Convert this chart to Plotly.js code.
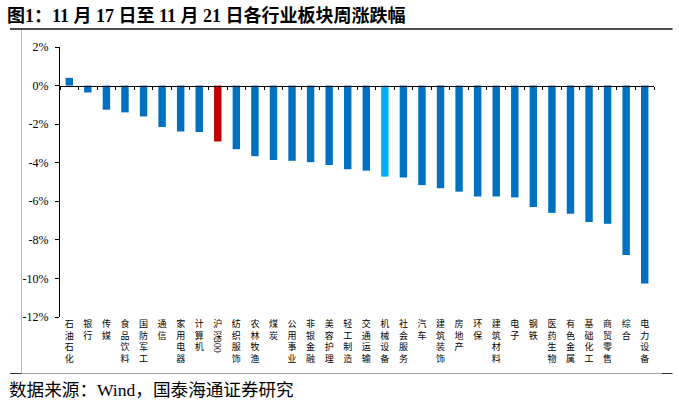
<!DOCTYPE html>
<html>
<head>
<meta charset="utf-8">
<script src="https://cdn.plot.ly/plotly-3.0.1.min.js"></script>
<style>html,body{margin:0;padding:0;background:#fff;}#chart{width:679px;height:404px;}</style>
</head>
<body>
<div id="chart"></div>
<script>
var categories = ['石油石化','银行','传媒','食品饮料','国防军工','通信','家用电器','计算机','沪深300','纺织服饰','农林牧渔','煤炭','公用事业','非银金融','美容护理','轻工制造','交通运输','机械设备','社会服务','汽车','建筑装饰','房地产','环保','建筑材料','电子','钢铁','医药生物','有色金属','基础化工','商贸零售','综合','电力设备'];
var weeklyChange = [0.40,-0.36,-1.25,-1.39,-1.60,-2.15,-2.38,-2.41,-2.90,-3.30,-3.66,-3.86,-3.90,-3.97,-4.12,-4.34,-4.41,-4.72,-4.77,-5.16,-5.33,-5.50,-5.75,-5.75,-5.80,-6.30,-6.60,-6.65,-7.08,-7.17,-8.79,-10.26];
var yTickVals = [2,0,-2,-4,-6,-8,-10,-12];
var yTickText = ['2%','0%','-2%','-4%','-6%','-8%','-10%','-12%'];
var titleText = '图1：11 月 17 日至 11 月 21 日各行业板块周涨跌幅';
var sourceText = '数据来源：Wind，国泰海通证券研究';

var SERIF = 'Liberation Serif, "Noto Sans CJK SC", serif';
var CJK = '"Noto Sans CJK SC", sans-serif';

var barColors = categories.map(function(c){
  if (c === '沪深300') return '#C00000';
  if (c === '机械设备') return '#00B0F0';
  return '#0070C0';
});
var tickLabels = categories.map(function(c){
  if (c === '沪深300') return '沪<br>深';
  return c.split('').join('<br>');
});

var W = 594, H = 270, L = 60, T = 47;
function px(x){ return (x - L) / W; }
function py(y){ return (T + H - y) / H; }

var data = [
  {type:'bar', x:categories, y:weeklyChange, width:0.4,
   marker:{color:barColors, line:{width:0}}, hoverinfo:'x+y'},
  {type:'scatter', x:categories, y:categories.map(function(){return 0;}), mode:'markers',
   marker:{opacity:0}, xaxis:'x2', hoverinfo:'skip', showlegend:false}
];

var layout = {
  width:679, height:404,
  margin:{l:L, r:679-L-W, t:T, b:404-T-H, pad:0},
  paper_bgcolor:'#fff', plot_bgcolor:'#fff',
  showlegend:false,
  font:{family:SERIF, color:'#000', size:12},
  title:{text:'<b>'+titleText+'</b>', font:{family:SERIF, size:18, color:'#000'},
         xref:'container', yref:'container', x:7/679, xanchor:'left', y:1-16/404, yanchor:'middle'},
  xaxis:{type:'category', range:[-0.5, categories.length-0.5], tickvals:categories, ticktext:tickLabels,
         showline:false, ticks:'', showgrid:false, zeroline:false, fixedrange:true,
         tickfont:{family:CJK, size:9, color:'#000'}},
  xaxis2:{type:'category', overlaying:'x', anchor:'free', position:12/14, range:[-0.5, categories.length-0.5],
          showline:true, linecolor:'#000', linewidth:1, ticks:'outside', ticklen:3, tickcolor:'#000',
          tickson:'boundaries', showticklabels:false, showgrid:false, zeroline:false},
  yaxis:{range:[-12,2], tickvals:yTickVals, ticktext:yTickText, showline:true, linecolor:'#000', linewidth:1,
         ticks:'outside', ticklen:4, tickcolor:'#000', showgrid:false, zeroline:false,
         ticklabelstandoff:4, tickfont:{family:SERIF, size:12, color:'#000'}},
  annotations:[
    {text:'300', xref:'x', yref:'paper', x:'沪深300', y:py(355), textangle:90, showarrow:false,
     font:{family:SERIF, size:10, color:'#000'}},
    {text:sourceText, xref:'paper', yref:'paper', x:px(7), y:py(390), xanchor:'left', yanchor:'middle',
     showarrow:false, font:{family:SERIF, size:17.6, color:'#000'}}
  ],
  shapes:[
    {type:'line', xref:'paper', yref:'paper', x0:px(10), x1:px(672.5), y0:py(29), y1:py(29), line:{color:'#111', width:1.5}},
    {type:'line', xref:'paper', yref:'paper', x0:px(21.5), x1:px(21.5), y0:py(30), y1:py(373.5), line:{color:'#b8b8b8', width:1}},
    {type:'line', xref:'paper', yref:'paper', x0:px(21.5), x1:px(662), y0:py(373.5), y1:py(373.5), line:{color:'#a6a6a6', width:1}},
    {type:'line', xref:'paper', yref:'paper', x0:px(10), x1:px(21.5), y0:py(373.5), y1:py(373.5), line:{color:'#333', width:1}},
    {type:'line', xref:'paper', yref:'paper', x0:px(662), x1:px(672.5), y0:py(373.5), y1:py(373.5), line:{color:'#333', width:1}}
  ]
};

Plotly.newPlot('chart', data, layout, {displayModeBar:false, staticPlot:true});
</script>
</body>
</html>
